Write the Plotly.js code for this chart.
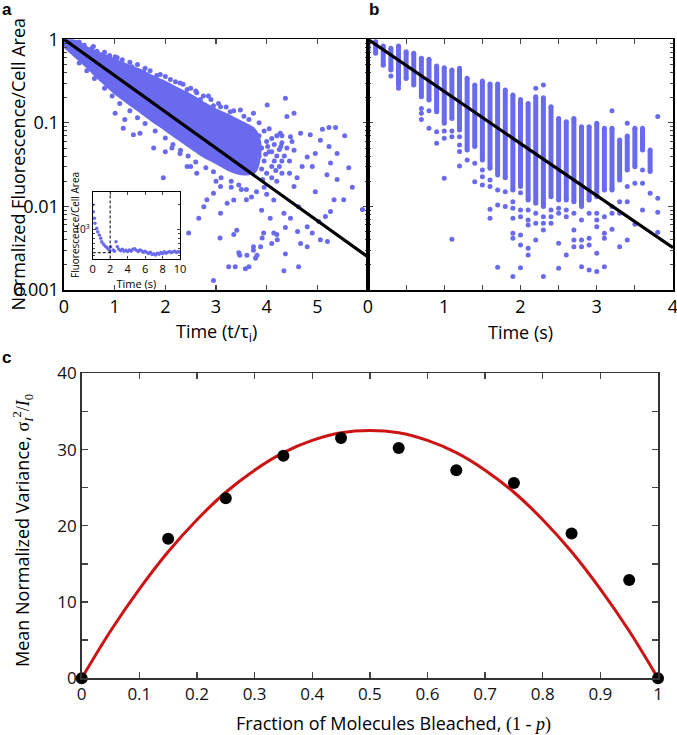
<!DOCTYPE html>
<html>
<head>
<meta charset="utf-8">
<script src="https://cdn.plot.ly/plotly-3.0.1.min.js"></script>
<style>body{margin:0;background:#fff}#fig{width:677px;height:735px}</style>
</head>
<body>
<div id="fig"></div>
<script>
// ---- panel a : normalized fluorescence vs t/tau ----
// dense core of the cloud (upper and lower edge)
const bandTime = [0, 0.25, 0.5, 0.75, 1, 1.25, 1.5, 1.75, 2, 2.25, 2.5, 2.75, 3, 3.25, 3.5, 3.75, 3.85];
const bandHigh = [1.0, 0.92, 0.75, 0.65, 0.556, 0.48, 0.42, 0.35, 0.30, 0.25, 0.21, 0.17, 0.14, 0.12, 0.10, 0.082, 0.06];
const bandLow  = [0.85, 0.62, 0.45, 0.32, 0.235, 0.18, 0.14, 0.108, 0.085, 0.066, 0.052, 0.041, 0.034, 0.028, 0.025, 0.026, 0.04];
// scattered cells outside the core
const aTime = [0.58, 0.71, 1.01, 1.14, 1.34, 1.57, 1.83, 2.10, 2.29, 2.43, 2.62, 2.69, 2.85, 2.95, 3.09, 3.28, 3.48, 3.74, 4.01, 4.37, 4.40, 4.54,
  5.10, 5.36, 4.86, 5.06, 5.23, 4.67, 4.47, 4.27, 4.54, 4.80, 4.96, 4.70, 4.90, 5.26, 5.62, 5.69, 5.52, 5.89, 5.26, 5.33, 5.16, 5.03, 4.80, 4.90, 5.06, 4.67,
  5.54, 5.39, 5.19, 5.39, 4.96, 5.23, 5.20, 4.80,
  1.01, 1.17, 1.37, 1.96, 1.77, 2.13, 2.29, 2.43, 2.62, 2.66, 2.46, 2.76, 2.82, 2.95, 3.09, 3.09, 3.22, 3.35, 3.41, 3.45, 3.61, 3.65, 3.74, 3.74, 3.81,
  3.38, 3.58, 3.88, 3.94, 4.14, 4.34, 4.63, 2.95, 4.14, 4.34, 4.54, 4.63, 4.47, 4.21, 4.07, 3.25, 3.47, 3.78, 4.10, 4.37, 3.08, 3.35, 3.91, 4.20, 4.37, 4.61,
  1.20, 1.50, 2.00, 2.50, 3.00, 3.30, 3.60, 3.90, 4.20, 4.00, 4.45, 4.60, 4.30, 4.10, 3.70, 3.50,
  0.3, 0.4, 0.55, 0.65, 0.8, 0.9, 1.05, 1.15, 1.3, 1.45, 1.6, 1.7, 1.9, 2.0, 2.2, 2.35, 2.5, 2.6, 2.75, 2.9, 3.05, 3.2, 3.35, 3.55, 3.65, 3.85, 4.05, 4.2, 4.3,
  0.3, 0.45, 0.6, 0.8, 0.95, 1.1, 1.3, 1.45, 1.6, 1.8, 2.0, 2.15, 2.3, 2.45, 2.6, 2.8, 2.95, 3.1, 3.3, 3.45, 3.6, 3.8, 3.95, 4.1, 4.25, 4.35, 4.4, 4.3,
  3.85, 3.9, 3.95, 4.0, 4.05, 4.1, 4.15, 4.2, 4.25, 4.0, 3.9, 3.85, 4.15, 4.3, 4.45, 4.5, 3.95, 4.1, 3.8, 3.75, 3.92, 4.02, 4.18, 4.28, 3.98];
const aValue = [0.82, 0.59, 0.62, 0.52, 0.47, 0.41, 0.37, 0.33, 0.30, 0.25, 0.23, 0.19, 0.21, 0.16, 0.156, 0.136, 0.143, 0.13, 0.164, 0.197, 0.119, 0.13,
  0.084, 0.088, 0.072, 0.062, 0.052, 0.075, 0.068, 0.075, 0.047, 0.039, 0.043, 0.030, 0.030, 0.033, 0.029, 0.017, 0.012, 0.0092, 0.0087, 0.012, 0.0076, 0.0066, 0.0057, 0.0048, 0.0040, 0.0036,
  0.070, 0.043, 0.024, 0.021, 0.015, 0.088, 0.0038, 0.0033,
  0.13, 0.086, 0.072, 0.022, 0.050, 0.050, 0.043, 0.030, 0.025, 0.0072, 0.0048, 0.0099, 0.012, 0.0144, 0.0173, 0.0083, 0.0109, 0.0119, 0.0052, 0.0028, 0.0026, 0.0019, 0.0033, 0.0030, 0.0026,
  0.0019, 0.0018, 0.0033, 0.0048, 0.0048, 0.0017, 0.0019, 0.0013, 0.0119, 0.0083, 0.0173, 0.0099, 0.0072, 0.0040, 0.0072, 0.0019, 0.0026, 0.0024, 0.0036, 0.0027, 0.0042, 0.0046, 0.0042, 0.0046, 0.0056, 0.0050,
  0.11, 0.075, 0.045, 0.030, 0.020, 0.017, 0.012, 0.009, 0.020, 0.014, 0.025, 0.022, 0.035, 0.045, 0.013, 0.016,
  0.93, 0.85, 0.78, 0.72, 0.70, 0.64, 0.60, 0.57, 0.53, 0.50, 0.45, 0.42, 0.38, 0.36, 0.31, 0.29, 0.26, 0.24, 0.21, 0.19, 0.17, 0.155, 0.14, 0.12, 0.11, 0.10, 0.085, 0.07, 0.058,
  0.52, 0.42, 0.34, 0.26, 0.21, 0.17, 0.14, 0.115, 0.098, 0.08, 0.066, 0.055, 0.047, 0.04, 0.034, 0.029, 0.026, 0.022, 0.02, 0.018, 0.016, 0.015, 0.017, 0.022, 0.03, 0.04, 0.05, 0.025,
  0.07, 0.05, 0.035, 0.06, 0.045, 0.03, 0.055, 0.04, 0.048, 0.025, 0.028, 0.04, 0.035, 0.07, 0.035, 0.06, 0.08, 0.065, 0.055, 0.03, 0.021, 0.052, 0.027, 0.052, 0.042];
const aFitTime = [0, 6];
const aFitValue = [1, 0.00248];

// inset: raw trace of one cell
const insetTime = [0, 0.07, 0.19, 0.26, 0.46, 0.57, 0.76, 0.92, 1.03, 1.22, 1.41, 1.6, 1.79, 1.98, 2.06, 2.37, 2.5, 2.67, 2.82, 3.0, 3.2, 3.4, 3.6, 3.8, 4.0, 4.2, 4.4, 4.6, 4.8, 5.0,
  5.2, 5.4, 5.6, 5.8, 6.0, 6.2, 6.4, 6.6, 6.8, 7.0, 7.2, 7.4, 7.6, 7.8, 8.0, 8.2, 8.4, 8.6, 8.8, 9.0, 9.2, 9.4, 9.6, 9.8, 10.0];
const insetValue = [1980, 1650, 1377, 1200, 1047, 953, 871, 795, 725, 681, 645, 622, 589, 567, 632, 578, 560, 725, 630, 590, 565, 590, 560, 575, 555, 580, 560, 590, 600, 575,
  555, 580, 565, 545, 560, 540, 525, 545, 510, 520, 505, 530, 515, 540, 525, 550, 530, 545, 555, 535, 550, 560, 540, 555, 545];
const insetMarkTime = 2;
const insetFloor = 537;

// ---- panel b : columns of cells at each frame (0.1 s) ----
const colTime = [0.0, 0.1, 0.2, 0.3, 0.4, 0.5, 0.6, 0.7, 0.8, 0.9, 1.0, 1.1, 1.2, 1.3, 1.4, 1.5, 1.6, 1.7, 1.8, 1.9,
  2.0, 2.1, 2.2, 2.3, 2.4, 2.5, 2.6, 2.7, 2.8, 2.9, 3.0, 3.1, 3.2, 3.3, 3.4, 3.5, 3.6, 3.7];
const colHigh = [1.0, 0.94, 0.83, 0.78, 0.83, 0.71, 0.68, 0.593, 0.576, 0.48, 0.458, 0.43, 0.45, 0.341, 0.284, 0.317, 0.292, 0.292, 0.248, 0.216,
  0.191, 0.171, 0.206, 0.20, 0.156, 0.113, 0.103, 0.113, 0.0901, 0.0901, 0.0988, 0.0861, 0.086, 0.0624, 0.0697, 0.0861, 0.0861, 0.0474];
const colLow = [0.75, 0.68, 0.49, 0.43, 0.284, 0.34, 0.284, 0.206, 0.188, 0.136, 0.0988, 0.113, 0.0822, 0.0474, 0.052, 0.036, 0.0286, 0.0238, 0.0221, 0.0157,
  0.0173, 0.0119, 0.0109, 0.00995, 0.0131, 0.0119, 0.0119, 0.0114, 0.00995, 0.0119, 0.0131, 0.0157, 0.0157, 0.0207, 0.0273, 0.0299, 0.0474, 0.0261];
const bTime = [0.3, 0.4, 0.7, 0.7, 0.7, 0.8, 0.8, 0.9, 0.9, 1.0, 1.0, 1.0, 1.1, 1.1, 1.1, 1.2, 1.2, 1.2, 1.2, 1.3, 1.4, 1.4, 1.5, 1.5, 1.5,
  1.6, 1.6, 1.6, 1.6, 1.7, 1.7, 1.7, 1.8, 1.8, 1.9, 1.9, 1.9, 1.9, 1.9, 1.9, 2.0, 2.0, 2.0, 2.0, 2.0, 2.0,
  2.1, 2.1, 2.1, 2.1, 2.1, 2.2, 2.2, 2.2, 2.2, 2.3, 2.3, 2.3, 2.3, 2.3, 2.4, 2.4, 2.4, 2.5, 2.5, 2.5, 2.5, 2.6, 2.6, 2.6,
  2.7, 2.7, 2.7, 2.7, 2.8, 2.8, 2.8, 2.8, 2.9, 2.9, 2.9, 2.9, 3.0, 3.0, 3.0, 3.0, 3.0, 3.1, 3.1, 3.1, 3.1,
  3.2, 3.2, 3.2, 3.2, 3.3, 3.3, 3.3, 3.4, 3.4, 3.4, 3.4, 3.5, 3.5, 3.6, 3.6, 3.6, 3.7, 3.8, 3.8, 3.8, 3.8];
const bValue = [0.364, 0.259, 0.149, 0.130, 0.110, 0.140, 0.0861, 0.0785, 0.0569, 0.080, 0.0654, 0.0217, 0.080, 0.0684, 0.00404, 0.0684, 0.0544, 0.0453, 0.0305, 0.036, 0.0328, 0.0198, 0.0273, 0.0227, 0.0181,
  0.0207, 0.0173, 0.00924, 0.00721, 0.0157, 0.0104, 0.00187, 0.0150, 0.00995, 0.0114, 0.0095, 0.00721, 0.00477, 0.00416, 0.00145, 0.0146, 0.00907, 0.00755, 0.00456, 0.00346, 0.00185,
  0.00907, 0.00689, 0.0060, 0.00316, 0.00262, 0.259, 0.00828, 0.00628, 0.00397, 0.284, 0.00755, 0.00628, 0.00523, 0.00145, 0.00907, 0.00755, 0.00628, 0.0095, 0.00828, 0.00362, 0.00182, 0.00907, 0.00755, 0.00262,
  0.00828, 0.00523, 0.00397, 0.0033, 0.00689, 0.00397, 0.0033, 0.0019, 0.00828, 0.00416, 0.00346, 0.00174, 0.00828, 0.00689, 0.00573, 0.00275, 0.00166, 0.00755, 0.00477, 0.00416, 0.0019,
  0.140, 0.00995, 0.00828, 0.00532, 0.0114, 0.00828, 0.0033, 0.0988, 0.0173, 0.0114, 0.00397, 0.0189, 0.00611, 0.0273, 0.0189, 0.00907, 0.0144, 0.119, 0.0125, 0.00851, 0.0049];
const bFitTime = [0, 4];
const bFitValue = [1, 0.0032];

// ---- panel c : variance vs fraction bleached ----
const fracBleached = [0, 0.15, 0.25, 0.35, 0.45, 0.55, 0.65, 0.75, 0.85, 0.95, 1];
const meanVar = [0, 18.3, 23.6, 29.2, 31.5, 30.2, 27.3, 25.6, 19.0, 12.9, 0];
const curveFrac = [0, 0.05, 0.1, 0.15, 0.2, 0.25, 0.3, 0.35, 0.4, 0.45, 0.5, 0.55, 0.6, 0.65, 0.7, 0.75, 0.8, 0.85, 0.9, 0.95, 1];
const curveVar = [0, 6.2, 11.7, 16.6, 20.8, 24.4, 27.3, 29.6, 31.2, 32.2, 32.5, 32.2, 31.2, 29.6, 27.3, 24.4, 20.8, 16.6, 11.7, 6.2, 0];

// tick labels
const logTicks = [0.001, 0.01, 0.1, 1];
const logTickText = ['0.001', '0.01', '0.1', '1'];
const logMinor = [0.002, 0.003, 0.004, 0.005, 0.006, 0.007, 0.008, 0.009, 0.02, 0.03, 0.04, 0.05, 0.06, 0.07, 0.08, 0.09,
  0.2, 0.3, 0.4, 0.5, 0.6, 0.7, 0.8, 0.9];
const insetMinor = [500, 600, 700, 800, 900, 2000];

const dotColor = '#6a6aee';
const W = 677, H = 735;
const px = v => v / W, py = v => 1 - v / H;
const sans = 'Open Sans, Lato, sans-serif';
const narrow = 'Liberation Sans Narrow, Open Sans, sans-serif';

let colX = [], colY = [];
for (let i = 0; i < colTime.length; i++) {
  colX.push(colTime[i], colTime[i], null);
  colY.push(colLow[i], colHigh[i], null);
}

const traces = [
  {x: bandTime.concat(bandTime.slice().reverse()), y: bandHigh.concat(bandLow.slice().reverse()),
   xaxis: 'x', yaxis: 'y', mode: 'lines', fill: 'toself', fillcolor: dotColor,
   line: {color: dotColor, width: 4, shape: 'spline'}, hoverinfo: 'skip'},
  {x: aTime, y: aValue, xaxis: 'x', yaxis: 'y', mode: 'markers', marker: {color: dotColor, size: 5}},
  {x: aFitTime, y: aFitValue, xaxis: 'x', yaxis: 'y', mode: 'lines', line: {color: '#000', width: 3.2}},

  {x: colX, y: colY, xaxis: 'x2', yaxis: 'y2', mode: 'lines+markers', connectgaps: false,
   line: {color: dotColor, width: 5}, marker: {color: dotColor, size: 5}},
  {x: bTime, y: bValue, xaxis: 'x2', yaxis: 'y2', mode: 'markers', marker: {color: dotColor, size: 5}},
  {x: bFitTime, y: bFitValue, xaxis: 'x2', yaxis: 'y2', mode: 'lines', line: {color: '#000', width: 3.2}},

  {x: insetTime, y: insetValue, xaxis: 'x4', yaxis: 'y4', mode: 'markers', marker: {color: dotColor, size: 3.5}},
  {x: [insetMarkTime, insetMarkTime], y: [400, 4000], xaxis: 'x4', yaxis: 'y4', mode: 'lines',
   line: {color: '#000', width: 1, dash: '3px,2px'}},
  {x: [0, insetMarkTime + 0.3], y: [insetFloor, insetFloor], xaxis: 'x4', yaxis: 'y4', mode: 'lines',
   line: {color: '#000', width: 1, dash: '3px,2px'}},

  {x: curveFrac, y: curveVar, xaxis: 'x3', yaxis: 'y3', mode: 'lines', line: {color: '#cc1414', width: 3, shape: 'spline'}},
  {x: fracBleached, y: meanVar, xaxis: 'x3', yaxis: 'y3', mode: 'markers', cliponaxis: false,
   marker: {color: '#000', size: 12}}
];

const logAxis = (dom, showLabels) => ({
  domain: dom, type: 'log', range: [-3, 0], tickmode: 'array', tickvals: logTicks, ticktext: logTickText,
  showticklabels: showLabels, ticks: 'inside', ticklen: 5, tickwidth: 1.2, mirror: 'ticks', ticklabeloverflow: 'allow',
  showline: true, linecolor: '#000', linewidth: 1.6, showgrid: false, zeroline: false,
  minor: {tickmode: 'array', tickvals: logMinor, ticks: 'inside', ticklen: 3, tickwidth: 1, showgrid: false},
  tickfont: {family: sans, size: 18, color: '#000'}
});

// annotation helper: paper position given in pixels
const note = (text, x, y, size, family, angle) => ({
  text: text, x: px(x), y: py(y), xref: 'paper', yref: 'paper', xanchor: 'center', yanchor: 'middle',
  textangle: angle || 0, showarrow: false, font: {family: family, size: size, color: '#000'}
});

const layout = {
  width: W, height: H, margin: {l: 0, r: 0, t: 0, b: 0},
  paper_bgcolor: '#fff', plot_bgcolor: '#fff', showlegend: false,
  xaxis: {domain: [px(64), px(368)], anchor: 'y', range: [0, 6], tickvals: [0, 1, 2, 3, 4, 5],
    ticks: 'inside', ticklen: 5, tickwidth: 1.2, mirror: 'ticks', showline: true, linecolor: '#000', linewidth: 1.6,
    showgrid: false, zeroline: false, tickfont: {family: sans, size: 18, color: '#000'}},
  yaxis: Object.assign(logAxis([py(290), py(39.3)], true), {anchor: 'x'}),
  xaxis2: {domain: [px(368), px(673)], anchor: 'y2', range: [0, 4], dtick: 1, ticklabeloverflow: 'allow',
    ticks: 'inside', ticklen: 5, tickwidth: 1.2, mirror: 'ticks', showline: true, linecolor: '#000', linewidth: 1.6,
    minor: {dtick: 0.5, ticks: 'inside', ticklen: 5, tickwidth: 1.2},
    showgrid: false, zeroline: false, tickfont: {family: sans, size: 18, color: '#000'}},
  yaxis2: Object.assign(logAxis([py(290), py(39.3)], false), {anchor: 'x2'}),
  xaxis3: {domain: [px(81.7), px(658)], anchor: 'y3', range: [0, 1], dtick: 0.1, ticklabeloverflow: 'allow',
    ticks: 'inside', ticklen: 6, tickwidth: 1.4, mirror: 'ticks', showline: true, linecolor: '#333', linewidth: 1.6,
    showgrid: false, zeroline: false, tickfont: {family: narrow, size: 17, color: '#111'}},
  yaxis3: {domain: [py(678.3), py(373.3)], anchor: 'x3', range: [0, 40], dtick: 10,
    ticks: 'inside', ticklen: 6, tickwidth: 1.4, mirror: 'ticks', showline: true, linecolor: '#333', linewidth: 1.6,
    minor: {dtick: 5, ticks: 'inside', ticklen: 6, tickwidth: 1.4},
    showgrid: false, zeroline: false, tickfont: {family: narrow, size: 17, color: '#111'}},
  xaxis4: {domain: [px(92.7), px(180)], anchor: 'y4', range: [0, 10], dtick: 2,
    ticks: 'inside', ticklen: 3, tickwidth: 1, mirror: 'ticks', showline: true, linecolor: '#000', linewidth: 1,
    showgrid: false, zeroline: false, tickfont: {family: sans, size: 11, color: '#000'},
    title: {text: 'Time (s)', font: {family: sans, size: 11, color: '#000'}, standoff: 2}},
  yaxis4: {domain: [py(259), py(191.7)], anchor: 'x4', type: 'log', range: [2.655, 3.455],
    tickmode: 'array', tickvals: [1000], ticktext: ['10<sup>3</sup>'],
    minor: {tickmode: 'array', tickvals: insetMinor, ticks: 'inside', ticklen: 2},
    ticks: 'inside', ticklen: 3, tickwidth: 1, mirror: 'ticks', showline: true, linecolor: '#000', linewidth: 1,
    showgrid: false, zeroline: false, tickfont: {family: sans, size: 10, color: '#000'}},
  shapes: [
    {type: 'line', xref: 'paper', yref: 'paper', x0: px(368), x1: px(368), y0: py(290), y1: py(39.3),
     line: {color: '#000', width: 3.5}}
  ],
  annotations: [
    note('<b>a</b>', 7, 9, 17, 'Liberation Sans, Arial'),
    note('<b>b</b>', 374, 9, 17, 'Liberation Sans, Arial'),
    note('<b>c</b>', 6, 358, 17, 'Liberation Sans, Arial'),
    note('Normalized Fluorescence/Cell Area', 18, 164.6, 18, sans, -90),
    note('Time (t/τ<sub>i</sub>)', 216, 332, 18, sans),
    note('Time (s)', 520, 332, 18, sans),
    note('Fluorescence/Cell Area', 75, 225, 10, narrow, -90),
    note('Mean Normalized Variance, <span style="font-family:Liberation Serif">σ<sub><i>I</i></sub><sup>2</sup>/<i>I</i><sub>0</sub></span>',
         23, 531, 18, narrow, -90),
    note('Fraction of Molecules Bleached, <span style="font-family:Liberation Serif">(1 - <i>p</i>)</span>',
         393, 723, 18, narrow)
  ]
};

Plotly.newPlot('fig', traces, layout, {staticPlot: true, displayModeBar: false});
</script>
</body>
</html>
